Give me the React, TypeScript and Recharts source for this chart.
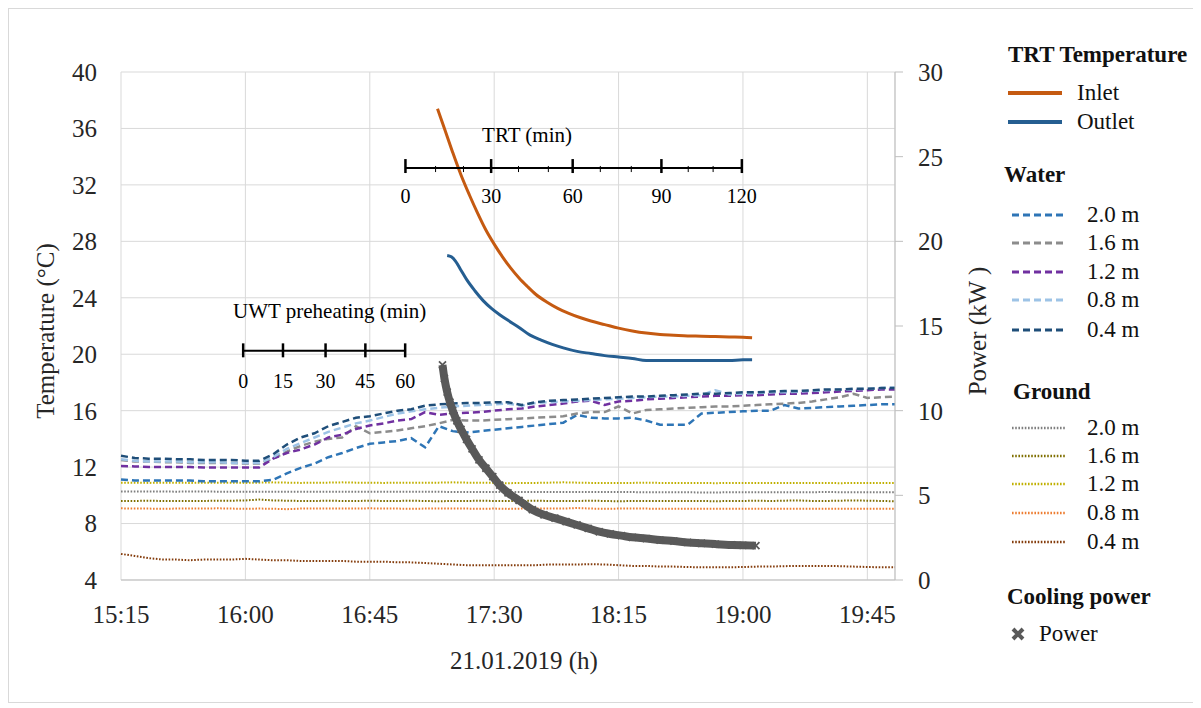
import React from 'react';
import {
  LineChart, Line, XAxis, YAxis, CartesianGrid, ReferenceLine, ReferenceDot
} from 'recharts';

const FONT = "'Liberation Serif', 'DejaVu Serif', serif";
const INK = '#262626';

// x axis is minutes after 15:15
const xTicks = [0, 45, 90, 135, 180, 225, 270];
const xTickLabels = ['15:15', '16:00', '16:45', '17:30', '18:15', '19:00', '19:45'];
const tempTicks = [4, 8, 12, 16, 20, 24, 28, 32, 36, 40];
const powerTicks = [0, 5, 10, 15, 20, 25, 30];

// water / ground sensors, logged every 5 min
const sensorTimes = [
  0, 5, 10, 15, 20, 25, 30, 35, 40, 45,
  50, 55, 60, 65, 70, 75, 80, 85, 90, 95,
  100, 105, 110, 115, 120, 125, 130, 135, 140, 145,
  150, 155, 160, 165, 170, 175, 180, 185, 190, 195,
  200, 205, 210, 215, 220, 225, 230, 235, 240, 245,
  250, 255, 260, 265, 270, 275, 280,
];

const water20 = [
  11.13, 11.05, 11.05, 11.05, 11.05, 11.05, 11.0, 11.0, 11.0, 11.0,
  11.0, 11.1, 11.55, 11.95, 12.25, 12.7, 13.0, 13.35, 13.65, 13.75,
  13.85, 14.05, 13.4, 14.9, 14.55, 14.45, 14.55, 14.65, 14.75, 14.85,
  14.95, 15.05, 15.15, 15.7, 15.5, 15.45, 15.45, 15.5, 15.3, 15.0,
  15.0, 15.0, 15.8, 15.85, 15.9, 15.95, 16.0, 16.0, 16.4, 16.15,
  16.2, 16.25, 16.3, 16.35, 16.4, 16.45, 16.46,
];
const water16 = [
  12.5, 12.4, 12.4, 12.35, 12.35, 12.3, 12.3, 12.3, 12.3, 12.25,
  12.25, 12.6, 13.1, 13.5, 13.8, 14.0, 14.1, 14.9, 14.4, 14.5,
  14.6, 14.75, 14.9, 15.1, 15.35, 15.3, 15.3, 15.35, 15.4, 15.45,
  15.5, 15.55, 15.6, 15.8, 15.9, 15.9, 16.3, 15.8, 16.05, 16.1,
  16.15, 16.2, 16.25, 16.3, 16.3, 16.35, 16.4, 16.45, 16.5, 16.55,
  16.65, 16.8, 16.95, 17.2, 16.9, 16.95, 17.0,
];
const water12 = [
  12.07, 12.05, 12.0, 12.0, 12.0, 12.0, 11.98, 11.98, 11.98, 11.98,
  11.98, 12.6, 13.0, 13.25, 13.6, 14.1, 14.3, 14.7, 14.95, 15.1,
  15.3, 15.4, 15.9, 15.7, 15.8, 15.85, 15.9, 16.0, 16.1, 16.15,
  16.3, 16.4, 16.5, 16.65, 16.7, 16.4, 16.65, 16.7, 16.8, 16.85,
  16.9, 16.95, 17.0, 17.05, 17.05, 17.1, 17.1, 17.15, 17.2, 17.2,
  17.25, 17.3, 17.35, 17.4, 17.45, 17.5, 17.5,
];
const water08 = [
  12.55, 12.45, 12.4, 12.4, 12.4, 12.35, 12.35, 12.35, 12.3, 12.3,
  12.3, 12.7, 13.3, 13.7, 14.1, 14.5, 14.8, 15.1, 15.3, 15.55,
  15.8, 15.95, 16.1, 16.2, 16.3, 16.35, 16.4, 16.45, 16.5, 16.35,
  16.55, 16.6, 16.65, 16.7, 16.75, 16.8, 16.85, 16.9, 16.95, 17.0,
  17.0, 17.05, 17.1, 17.45, 17.15, 17.2, 17.25, 17.3, 17.3, 17.35,
  17.4, 17.45, 17.5, 17.5, 17.55, 17.6, 17.65,
];
const water04 = [
  12.8, 12.65, 12.6, 12.6, 12.55, 12.55, 12.5, 12.5, 12.5, 12.45,
  12.45, 12.9, 13.6, 14.1, 14.4, 14.9, 15.2, 15.5, 15.6, 15.8,
  16.0, 16.1, 16.35, 16.45, 16.5, 16.55, 16.55, 16.6, 16.6, 16.4,
  16.6, 16.7, 16.75, 16.8, 16.85, 16.9, 16.95, 17.0, 17.0, 17.05,
  17.1, 17.15, 17.2, 17.2, 17.25, 17.3, 17.3, 17.35, 17.4, 17.4,
  17.45, 17.5, 17.5, 17.55, 17.55, 17.6, 17.6,
];

const ground20 = [
  10.28, 10.27, 10.27, 10.27, 10.26, 10.27, 10.27, 10.26, 10.26, 10.26,
  10.26, 10.26, 10.26, 10.26, 10.25, 10.26, 10.26, 10.25, 10.25, 10.25,
  10.25, 10.25, 10.25, 10.25, 10.24, 10.24, 10.24, 10.24, 10.24, 10.24,
  10.24, 10.24, 10.23, 10.23, 10.23, 10.23, 10.23, 10.23, 10.22, 10.22,
  10.22, 10.22, 10.2, 10.2, 10.22, 10.22, 10.22, 10.22, 10.22, 10.22,
  10.22, 10.24, 10.22, 10.22, 10.22, 10.22, 10.22,
];
const ground16 = [
  9.6, 9.6, 9.62, 9.6, 9.6, 9.6, 9.6, 9.62, 9.62, 9.64,
  9.7, 9.64, 9.62, 9.6, 9.6, 9.62, 9.6, 9.6, 9.62, 9.6,
  9.6, 9.62, 9.6, 9.58, 9.6, 9.6, 9.62, 9.6, 9.6, 9.6,
  9.62, 9.6, 9.6, 9.6, 9.62, 9.6, 9.58, 9.6, 9.6, 9.6,
  9.6, 9.6, 9.6, 9.58, 9.6, 9.6, 9.62, 9.6, 9.62, 9.64,
  9.6, 9.6, 9.62, 9.64, 9.62, 9.6, 9.58,
];
const ground12 = [
  10.9, 10.9, 10.88, 10.9, 10.9, 10.88, 10.9, 10.9, 10.9, 10.88,
  10.9, 10.92, 10.9, 10.88, 10.9, 10.9, 10.92, 10.9, 10.9, 10.88,
  10.9, 10.9, 10.9, 10.9, 10.92, 10.9, 10.9, 10.88, 10.86, 10.88,
  10.88, 10.9, 10.92, 10.9, 10.88, 10.88, 10.88, 10.88, 10.9, 10.88,
  10.88, 10.88, 10.88, 10.86, 10.88, 10.88, 10.88, 10.88, 10.88, 10.88,
  10.88, 10.88, 10.86, 10.88, 10.88, 10.88, 10.88,
];
const ground08 = [
  9.08, 9.06, 9.06, 9.05, 9.06, 9.06, 9.06, 9.08, 9.06, 9.05,
  9.06, 9.05, 9.02, 9.06, 9.06, 9.07, 9.06, 9.06, 9.08, 9.06,
  9.06, 9.05, 9.06, 9.07, 9.06, 9.06, 9.05, 9.06, 9.04, 9.06,
  9.06, 9.07, 9.06, 9.1, 9.06, 9.05, 9.06, 9.06, 9.06, 9.05,
  9.05, 9.05, 9.05, 9.05, 9.05, 9.05, 9.05, 9.05, 9.05, 9.05,
  9.05, 9.05, 9.05, 9.05, 9.05, 9.05, 9.04,
];
const ground04 = [
  5.85, 5.7, 5.55, 5.45, 5.45, 5.4, 5.45, 5.45, 5.45, 5.5,
  5.45, 5.4, 5.4, 5.35, 5.35, 5.35, 5.35, 5.3, 5.3, 5.3,
  5.25, 5.25, 5.2, 5.15, 5.1, 5.05, 5.05, 5.05, 5.05, 5.05,
  5.05, 5.1, 5.1, 5.1, 5.12, 5.1, 5.05, 5.0, 5.0, 4.95,
  4.95, 4.92, 4.9, 4.9, 4.9, 4.92, 4.95, 4.95, 4.98, 5.0,
  5.0, 5.0, 4.98, 4.95, 4.92, 4.9, 4.9,
];

// TRT loop temperatures
const inletTimes = [114.5, 117, 120, 123, 126, 129, 132, 135, 138, 141, 144, 147, 150, 154, 158, 162, 166, 170, 175, 180, 185, 190, 195, 200, 205, 210, 215, 220, 225, 228.3];
const inletTemp = [37.4, 36.0, 34.3, 32.7, 31.3, 30.0, 28.8, 27.8, 26.9, 26.1, 25.4, 24.8, 24.25, 23.7, 23.25, 22.9, 22.6, 22.35, 22.1, 21.85, 21.65, 21.5, 21.4, 21.35, 21.3, 21.28, 21.25, 21.22, 21.2, 21.17];
const outletTimes = [118, 119.5, 121, 123, 125, 128, 131, 134, 137, 140, 144, 148, 152, 156, 160, 165, 170, 175, 180, 185, 190, 195, 200, 205, 210, 215, 220, 225, 228.3];
const outletTemp = [27.0, 26.9, 26.6, 25.95, 25.3, 24.5, 23.8, 23.25, 22.8, 22.4, 21.9, 21.35, 21.0, 20.7, 20.45, 20.2, 20.05, 19.9, 19.8, 19.7, 19.55, 19.55, 19.55, 19.55, 19.55, 19.55, 19.55, 19.6, 19.6];

// cooling power (kW)
const powerTimes = [116.3, 117, 118, 119, 120, 121.5, 123, 125, 127, 129.5, 132, 134.5, 137, 140, 144, 148.8, 153, 157, 161, 165, 169, 173, 177, 181, 185, 190, 195, 200, 205, 210, 215, 221, 225, 229.7];
const powerKw = [12.7, 11.9, 11.1, 10.5, 10.0, 9.4, 8.9, 8.3, 7.75, 7.1, 6.6, 6.1, 5.6, 5.15, 4.7, 4.15, 3.85, 3.65, 3.45, 3.25, 3.05, 2.85, 2.72, 2.62, 2.52, 2.45, 2.36, 2.3, 2.22, 2.17, 2.12, 2.07, 2.05, 2.03];

// scale-bar annotations (x in minutes after 15:15)
const uwtScaleLabels = ['0', '15', '30', '45', '60'];
const uwtScaleTimes = [44.2, 58.6, 74.0, 88.4, 102.8];
const trtScaleLabels = ['0', '30', '60', '90', '120'];
const trtScaleTimes = [102.9, 133.9, 163.4, 195.5, 224.6];
const trtMinorTimes = [113.8, 123.9, 143.8, 154.6, 173.4, 184.6, 205.2, 214.2];

// merge everything on one time axis
type Row = { t: number; [k: string]: number };
const rowMap = new Map<number, Row>();
const put = (times: number[], key: string, vals: number[]) => {
  times.forEach((t, i) => {
    const r = rowMap.get(t) ?? { t };
    r[key] = vals[i];
    rowMap.set(t, r);
  });
};
put(sensorTimes, 'w20', water20);
put(sensorTimes, 'w16', water16);
put(sensorTimes, 'w12', water12);
put(sensorTimes, 'w08', water08);
put(sensorTimes, 'w04', water04);
put(sensorTimes, 'g20', ground20);
put(sensorTimes, 'g16', ground16);
put(sensorTimes, 'g12', ground12);
put(sensorTimes, 'g08', ground08);
put(sensorTimes, 'g04', ground04);
put(inletTimes, 'inlet', inletTemp);
put(outletTimes, 'outlet', outletTemp);
put(powerTimes, 'power', powerKw);
const chartData = [...rowMap.values()].sort((a, b) => a.t - b.t);

const trtSeries = [
  { key: 'inlet', name: 'Inlet', color: '#C55A11' },
  { key: 'outlet', name: 'Outlet', color: '#255E91' },
];
const waterSeries = [
  { key: 'w20', name: '2.0 m', color: '#2E75B6' },
  { key: 'w16', name: '1.6 m', color: '#8C8C8C' },
  { key: 'w12', name: '1.2 m', color: '#7030A0' },
  { key: 'w08', name: '0.8 m', color: '#9DC3E6' },
  { key: 'w04', name: '0.4 m', color: '#1F4E79' },
];
const groundSeries = [
  { key: 'g20', name: '2.0 m', color: '#7F7F7F' },
  { key: 'g16', name: '1.6 m', color: '#7F6F00' },
  { key: 'g12', name: '1.2 m', color: '#C0B000' },
  { key: 'g08', name: '0.8 m', color: '#ED7D31' },
  { key: 'g04', name: '0.4 m', color: '#843C0C' },
];
const POWER_COLOR = '#595959';
const WATER_DASH = '7 4';
const GROUND_DASH = '1.6 1.6';

const CrossDot = (props: any) => {
  const { cx, cy, index } = props;
  if (cx == null || cy == null || Number.isNaN(cx) || Number.isNaN(cy)) return <g key={`c-${index}`} />;
  const s = 3.5;
  return (
    <path
      key={`c-${index}`}
      d={`M${cx - s},${cy - s}L${cx + s},${cy + s}M${cx - s},${cy + s}L${cx + s},${cy - s}`}
      stroke={POWER_COLOR}
      strokeWidth={1.8}
      fill="none"
    />
  );
};

const LeftTitle = ({ viewBox }: any) => {
  const x = viewBox.x + 37;
  const y = viewBox.y + viewBox.height / 2 + 5;
  return (
    <text x={x} y={y} transform={`rotate(-90 ${x} ${y})`} textAnchor="middle" dominantBaseline="central"
      fontFamily={FONT} fontSize={25} fill={INK}>Temperature (°C)</text>
  );
};
const RightTitle = ({ viewBox }: any) => {
  const x = viewBox.x + 82;
  const y = viewBox.y + viewBox.height / 2 + 5;
  return (
    <text x={x} y={y} transform={`rotate(-90 ${x} ${y})`} textAnchor="middle" dominantBaseline="central"
      fontFamily={FONT} fontSize={25} fill={INK} xmlSpace="preserve">Power (kW )</text>
  );
};
const BottomTitle = ({ viewBox }: any) => (
  <text x={viewBox.x + viewBox.width / 2 + 16} y={viewBox.y + 80} textAnchor="middle" dominantBaseline="central"
    fontFamily={FONT} fontSize={25} fill={INK}>21.01.2019 (h)</text>
);

const annoLabel = (value: string, size: number) => ({
  value, position: 'center' as const, fontSize: size, fill: '#000', fontFamily: FONT,
});

const LegendLine = ({ color, dash, width }: { color: string; dash?: string; width: number }) => (
  <svg width={54} height={10} style={{ display: 'block' }}>
    <line x1={0} y1={5} x2={54} y2={5} stroke={color} strokeWidth={width} strokeDasharray={dash} />
  </svg>
);

const textStyle = (left: number, cy: number, bold = false): React.CSSProperties => ({
  position: 'absolute', left, top: cy - 13, height: 26, lineHeight: '26px',
  fontSize: 23, fontWeight: bold ? 700 : 400, color: '#111', whiteSpace: 'nowrap',
});

const LegendPanel = () => {
  const trtRows = [85, 114];
  const waterRows = [207, 235, 264, 292, 322];
  const groundRows = [420, 448, 476, 505, 534];
  return (
    <>
      <div style={textStyle(1000, 47, true)}>TRT Temperature</div>
      {trtSeries.map((s, i) => (
        <React.Fragment key={s.key}>
          <div style={{ position: 'absolute', left: 1000, top: trtRows[i] - 5 }}>
            <LegendLine color={s.color} width={4} />
          </div>
          <div style={textStyle(1069, trtRows[i])}>{s.name}</div>
        </React.Fragment>
      ))}
      <div style={textStyle(996, 167, true)}>Water</div>
      {waterSeries.map((s, i) => (
        <React.Fragment key={s.key}>
          <div style={{ position: 'absolute', left: 1004, top: waterRows[i] - 5 }}>
            <LegendLine color={s.color} width={3} dash={WATER_DASH} />
          </div>
          <div style={textStyle(1079, waterRows[i])}>{s.name}</div>
        </React.Fragment>
      ))}
      <div style={textStyle(1005, 384, true)}>Ground</div>
      {groundSeries.map((s, i) => (
        <React.Fragment key={s.key}>
          <div style={{ position: 'absolute', left: 1004, top: groundRows[i] - 5 }}>
            <LegendLine color={s.color} width={2.5} dash={GROUND_DASH} />
          </div>
          <div style={textStyle(1079, groundRows[i])}>{s.name}</div>
        </React.Fragment>
      ))}
      <div style={textStyle(999, 589, true)}>Cooling power</div>
      <svg width={16} height={16} style={{ position: 'absolute', left: 1002, top: 618 }}>
        <path d="M3,3L13,13M3,13L13,3" stroke={POWER_COLOR} strokeWidth={4} />
      </svg>
      <div style={textStyle(1031, 626)}>Power</div>
    </>
  );
};

export default function App() {
  return (
    <div style={{ position: 'relative', width: 1190, height: 695, fontFamily: FONT }}>
      <div style={{ position: 'absolute', inset: 0, border: '1px solid #d9d9d9' }} />
      <div style={{ position: 'absolute', left: 0, top: 0 }}>
        <LineChart width={1000} height={690} data={chartData} margin={{ top: 64, right: 13, bottom: 23, left: 0 }}
          style={{ fontFamily: FONT }}>
          <CartesianGrid yAxisId="left" stroke="#d9d9d9" strokeWidth={1} />
          <XAxis
            dataKey="t" type="number" domain={[0, 279.5]} ticks={xTicks} interval={0}
            tickFormatter={(v: number) => xTickLabels[xTicks.indexOf(v)]}
            height={95} tickSize={0} tickMargin={25} tickLine={false}
            axisLine={{ stroke: '#bfbfbf' }}
            tick={{ fontSize: 25, fill: INK, fontFamily: FONT }}
            label={<BottomTitle />}
          />
          <YAxis
            yAxisId="left" domain={[4, 40]} ticks={tempTicks} interval={0} width={113}
            tickSize={0} tickMargin={24} tickLine={false} axisLine={false}
            tick={{ fontSize: 25, fill: INK, fontFamily: FONT }}
            label={<LeftTitle />}
          />
          <YAxis
            yAxisId="right" orientation="right" domain={[0, 30]} ticks={powerTicks} interval={0} width={100}
            tickSize={8} tickMargin={15} tickLine={{ stroke: '#bfbfbf' }} axisLine={{ stroke: '#bfbfbf' }}
            tick={{ fontSize: 25, fill: INK, fontFamily: FONT }}
            label={<RightTitle />}
          />

          {groundSeries.map(s => (
            <Line key={s.key} yAxisId="left" dataKey={s.key} type="linear" stroke={s.color} strokeWidth={2}
              strokeDasharray={GROUND_DASH} dot={false} activeDot={false} connectNulls isAnimationActive={false} />
          ))}
          {waterSeries.map(s => (
            <Line key={s.key} yAxisId="left" dataKey={s.key} type="linear" stroke={s.color} strokeWidth={2.5}
              strokeDasharray={WATER_DASH} dot={false} activeDot={false} connectNulls isAnimationActive={false} />
          ))}
          <Line yAxisId="right" dataKey="power" type="monotone" stroke={POWER_COLOR} strokeWidth={8}
            dot={CrossDot} activeDot={false} connectNulls isAnimationActive={false} />
          {trtSeries.map(s => (
            <Line key={s.key} yAxisId="left" dataKey={s.key} type="monotone" stroke={s.color} strokeWidth={3}
              dot={false} activeDot={false} connectNulls isAnimationActive={false} />
          ))}

          {/* UWT preheating scale */}
          <ReferenceLine yAxisId="left" segment={[{ x: uwtScaleTimes[0], y: 20.25 }, { x: uwtScaleTimes[4], y: 20.25 }]}
            stroke="#000" strokeWidth={2} />
          {uwtScaleTimes.map((t, i) => (
            <ReferenceLine key={`uwt-${i}`} yAxisId="left" segment={[{ x: t, y: 19.78 }, { x: t, y: 20.77 }]}
              stroke="#000" strokeWidth={2.5} />
          ))}
          {uwtScaleTimes.map((t, i) => (
            <ReferenceDot key={`uwtl-${i}`} yAxisId="left" x={t} y={18.1} r={0} stroke="none" fill="none"
              label={annoLabel(uwtScaleLabels[i], 20)} />
          ))}
          <ReferenceDot yAxisId="left" x={75.5} y={23.08} r={0} stroke="none" fill="none"
            label={annoLabel('UWT preheating (min)', 21)} />

          {/* TRT scale */}
          <ReferenceLine yAxisId="left" segment={[{ x: trtScaleTimes[0], y: 33.2 }, { x: trtScaleTimes[4], y: 33.2 }]}
            stroke="#000" strokeWidth={2} />
          {trtScaleTimes.map((t, i) => (
            <ReferenceLine key={`trt-${i}`} yAxisId="left" segment={[{ x: t, y: 32.84 }, { x: t, y: 33.83 }]}
              stroke="#000" strokeWidth={2.5} />
          ))}
          {trtMinorTimes.map((t, i) => (
            <ReferenceLine key={`trtm-${i}`} yAxisId="left" segment={[{ x: t, y: 32.91 }, { x: t, y: 33.34 }]}
              stroke="#000" strokeWidth={1} />
          ))}
          {trtScaleTimes.map((t, i) => (
            <ReferenceDot key={`trtl-${i}`} yAxisId="left" x={t} y={31.2} r={0} stroke="none" fill="none"
              label={annoLabel(trtScaleLabels[i], 20)} />
          ))}
          <ReferenceDot yAxisId="left" x={146.9} y={35.6} r={0} stroke="none" fill="none"
            label={annoLabel('TRT (min)', 21)} />
        </LineChart>
      </div>
      <LegendPanel />
    </div>
  );
}
